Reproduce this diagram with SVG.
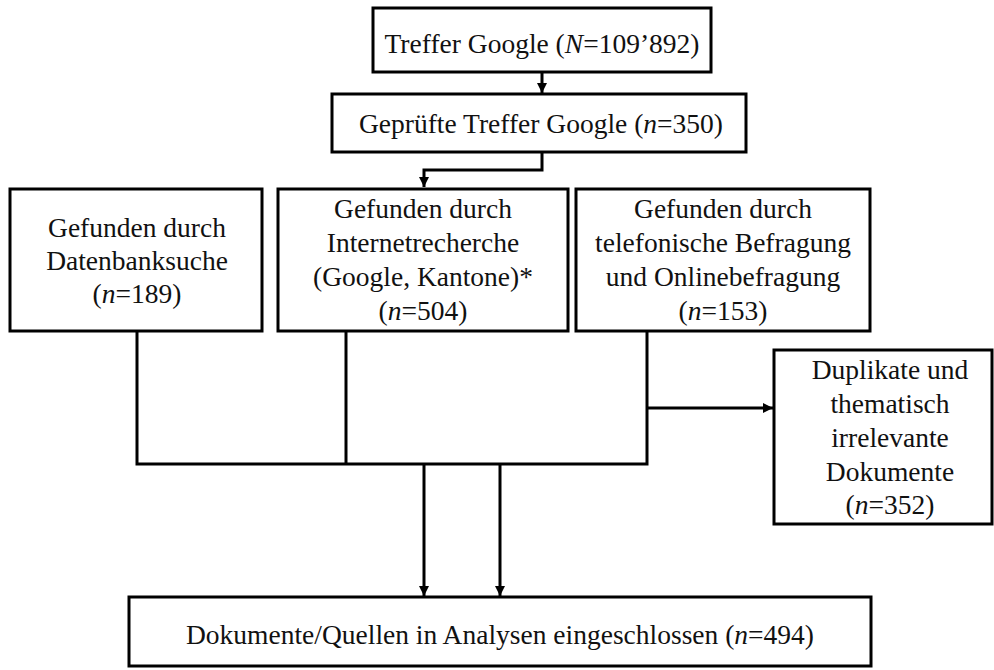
<svg xmlns="http://www.w3.org/2000/svg" width="994" height="670" viewBox="0 0 994 670">
<style>
.box{fill:#fff;stroke:#000;stroke-width:3}
.t{font-family:'Liberation Serif','Times New Roman',serif;font-size:27.5px;fill:#111;text-anchor:middle}
.c{fill:none;stroke:#000;stroke-width:3}
</style>
<defs>
<marker id="ah" viewBox="0 0 10 10" refX="10" refY="5" markerWidth="10" markerHeight="10" markerUnits="userSpaceOnUse" orient="auto">
<path d="M0,0 L10,5 L0,10 Z" fill="#000"/>
</marker>
</defs>
<rect width="994" height="670" fill="#fff"/>
<g id="connectors">
<path class="c" d="M542,72 V93" marker-end="url(#ah)"/>
<path class="c" d="M542,152 V170 H424 V187" marker-end="url(#ah)"/>
<path class="c" d="M137,331 V464 H647 V331"/>
<path class="c" d="M346,331 V464"/>
<path class="c" d="M647,408 H773" marker-end="url(#ah)"/>
<path class="c" d="M424,464 V596" marker-end="url(#ah)"/>
<path class="c" d="M500,464 V596" marker-end="url(#ah)"/>
</g>
<g id="n1">
<rect class="box" x="373" y="8" width="338" height="64"/>
<text class="t" x="542" y="53">Treffer Google (<tspan font-style="italic">N</tspan>=109’892)</text>
</g>
<g id="n2">
<rect class="box" x="332" y="94" width="414" height="58"/>
<text class="t" x="541" y="133">Geprüfte Treffer Google (<tspan font-style="italic">n</tspan>=350)</text>
</g>
<g id="n3">
<rect class="box" x="10" y="189" width="252" height="142"/>
<text class="t" x="137" y="237">Gefunden durch</text>
<text class="t" x="137" y="270">Datenbanksuche</text>
<text class="t" x="137" y="303">(<tspan font-style="italic">n</tspan>=189)</text>
</g>
<g id="n4">
<rect class="box" x="278" y="189" width="290" height="142"/>
<text class="t" x="423" y="218">Gefunden durch</text>
<text class="t" x="423" y="252">Internetrecherche</text>
<text class="t" x="423" y="286">(Google, Kantone)*</text>
<text class="t" x="423" y="320">(<tspan font-style="italic">n</tspan>=504)</text>
</g>
<g id="n5">
<rect class="box" x="576" y="189" width="294" height="142"/>
<text class="t" x="723" y="218">Gefunden durch</text>
<text class="t" x="723" y="252">telefonische Befragung</text>
<text class="t" x="723" y="286">und Onlinebefragung</text>
<text class="t" x="723" y="320">(<tspan font-style="italic">n</tspan>=153)</text>
</g>
<g id="n6">
<rect class="box" x="774" y="350" width="218" height="174"/>
<text class="t" x="890" y="379">Duplikate und</text>
<text class="t" x="890" y="413">thematisch</text>
<text class="t" x="890" y="447">irrelevante</text>
<text class="t" x="890" y="481">Dokumente</text>
<text class="t" x="890" y="514">(<tspan font-style="italic">n</tspan>=352)</text>
</g>
<g id="n7">
<rect class="box" x="129" y="597" width="742" height="69"/>
<text class="t" x="500" y="644">Dokumente/Quellen in Analysen eingeschlossen (<tspan font-style="italic">n</tspan>=494)</text>
</g>
</svg>
